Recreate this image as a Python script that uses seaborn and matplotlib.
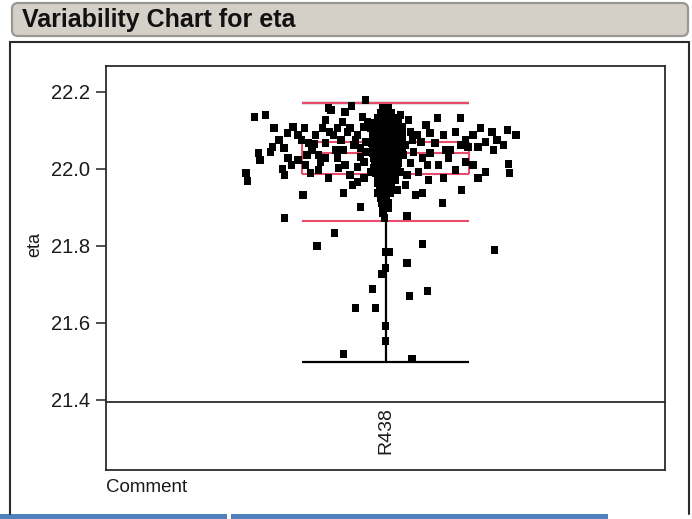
import matplotlib
matplotlib.use("Agg")
import matplotlib.pyplot as plt
from matplotlib.patches import FancyBboxPatch, Rectangle
from matplotlib.lines import Line2D
import numpy as np
import pandas as pd
import seaborn as sns

sns.set_theme(style="white")
plt.rcParams["font.family"] = ["Liberation Sans", "DejaVu Sans"]

# ---------------------------------------------------------------------------
# Data: eta measurements for the single Comment level, with horizontal jitter
# ---------------------------------------------------------------------------
categories = ["R438"]

# dense core of the distribution
core_eta = [22.158, 22.158,
            22.145, 22.145, 22.145,
            22.132, 22.132, 22.132, 22.132,
            22.119, 22.119, 22.119, 22.119, 22.119,
            22.106, 22.106, 22.106, 22.106, 22.106,
            22.094, 22.094, 22.094, 22.094, 22.094, 22.094,
            22.081, 22.081, 22.081, 22.081, 22.081, 22.081,
            22.068, 22.068, 22.068, 22.068, 22.068, 22.068,
            22.055, 22.055, 22.055, 22.055, 22.055, 22.055,
            22.042, 22.042, 22.042, 22.042, 22.042,
            22.029, 22.029, 22.029, 22.029, 22.029,
            22.016, 22.016, 22.016, 22.016, 22.016,
            22.003, 22.003, 22.003, 22.003, 22.003,
            21.990, 21.990, 21.990, 21.990,
            21.977, 21.977, 21.977,
            21.964, 21.964, 21.964,
            21.951, 21.951, 21.951,
            21.938, 21.938, 21.938,
            21.925, 21.925,
            21.912, 21.912,
            21.899, 21.899,
            21.886,
            21.873]
core_jit = [-0.004, 0.005,
            -0.009, 0.002, 0.011,
            -0.014, -0.004, 0.007, 0.018,
            -0.020, -0.009, 0.002, 0.013, 0.023,
            -0.021, -0.011, 0.000, 0.011, 0.021,
            -0.023, -0.013, -0.002, 0.009, 0.020, 0.029,
            -0.023, -0.013, -0.002, 0.009, 0.020, 0.030,
            -0.025, -0.014, -0.004, 0.007, 0.018, 0.029,
            -0.023, -0.013, -0.002, 0.009, 0.020, 0.030,
            -0.023, -0.013, -0.002, 0.009, 0.020,
            -0.021, -0.011, 0.000, 0.011, 0.021,
            -0.020, -0.009, 0.002, 0.013, 0.023,
            -0.021, -0.011, 0.000, 0.011, 0.021,
            -0.018, -0.007, 0.004, 0.014,
            -0.014, -0.004, 0.007,
            -0.013, -0.002, 0.009,
            -0.011, 0.000, 0.011,
            -0.013, -0.002, 0.009,
            -0.009, 0.002,
            -0.007, 0.004,
            -0.005, 0.005,
            -0.004,
            -0.002]

# points just left of the core
inner_left_eta = [22.179, 22.164, 22.153, 22.122, 22.106, 22.088, 22.106, 22.088,
                  22.109, 22.122, 22.135, 22.106, 22.062, 22.049, 22.029, 22.010,
                  22.005, 22.018, 21.984, 21.966, 21.958, 21.977, 21.992, 22.044,
                  22.031, 22.003, 22.075, 22.096, 22.070, 22.055, 21.938, 21.901,
                  21.997, 21.977, 22.049, 22.127, 22.148, 22.075, 22.023]
inner_left_jit = [-0.036, -0.061, -0.098, -0.077, -0.086, -0.093, -0.063, -0.050,
                  -0.039, -0.032, -0.041, -0.027, -0.057, -0.075, -0.086, -0.072,
                  -0.050, -0.039, -0.063, -0.050, -0.059, -0.039, -0.027, -0.036,
                  -0.045, -0.084, -0.054, -0.068, -0.036, -0.045, -0.075, -0.045,
                  -0.120, -0.102, -0.089, -0.107, -0.072, -0.080, -0.156]

# points just right of the core
inner_right_eta = [22.109, 22.096, 22.088, 22.070, 22.062, 22.044, 22.029, 22.010,
                   22.016, 21.992, 21.984, 21.992, 22.042, 22.036, 22.127, 22.140,
                   22.075, 21.958, 21.971, 21.945, 21.938, 21.878,
                   22.094, 22.114, 22.049, 22.010, 21.997, 21.971, 21.932]
inner_right_jit = [0.030, 0.045, 0.057, 0.063, 0.036, 0.050, 0.066, 0.075,
                   0.045, 0.059, 0.039, 0.027, 0.080, 0.032, 0.041, 0.027,
                   0.048, 0.036, 0.018, 0.021, 0.066, 0.039,
                   0.080, 0.072, 0.107, 0.095, 0.125, 0.077, 0.054]

# wide right wing
outer_right_eta = [22.132, 22.088, 22.068, 21.977, 21.912, 22.132, 22.096, 22.106,
                   22.088, 22.096, 22.101, 22.088, 22.075, 22.070, 22.062, 22.075,
                   22.062, 22.049, 22.057, 22.029, 22.018, 22.013, 22.049, 22.057,
                   22.010, 21.992, 21.977, 21.945, 21.990]
outer_right_jit = [0.093, 0.104, 0.089, 0.104, 0.102, 0.134, 0.125, 0.170,
                   0.157, 0.191, 0.218, 0.233, 0.200, 0.179, 0.211, 0.143,
                   0.134, 0.116, 0.148, 0.113, 0.143, 0.220, 0.193, 0.166,
                   0.156, 0.179, 0.166, 0.136, 0.222]

# wide left wing
outer_left_eta = [22.135, 22.140, 22.106, 22.094, 22.109, 22.106, 22.088, 22.075,
                  22.068, 22.065, 22.068, 22.075, 22.057, 22.044, 22.042, 22.023,
                  22.029, 22.036, 22.036, 22.029, 22.158, 22.096, 21.990, 21.969,
                  22.000, 21.984, 22.010, 21.990, 21.932, 21.873, 22.018, 22.088,
                  22.106, 22.049, 22.010, 22.055]
outer_left_jit = [-0.234, -0.215, -0.199, -0.175, -0.165, -0.145, -0.157, -0.150,
                  -0.138, -0.127, -0.107, -0.191, -0.202, -0.206, -0.227, -0.224,
                  -0.174, -0.140, -0.120, -0.107, -0.102, -0.100, -0.250, -0.247,
                  -0.184, -0.181, -0.168, -0.134, -0.148, -0.181, -0.116, -0.125,
                  -0.113, -0.131, -0.143, -0.182]

# low tail
tail_eta = [21.834, 21.800, 21.805, 21.790, 21.784, 21.784, 21.756, 21.743, 21.727,
            21.688, 21.683, 21.670, 21.639, 21.639, 21.592, 21.553, 21.519, 21.506]
tail_jit = [-0.091, -0.123, 0.066, 0.195, 0.000, 0.007, 0.039, 0.000, -0.007,
            -0.023, 0.075, 0.043, -0.054, -0.018, 0.000, 0.000, -0.075, 0.047]

# box plot summary and range bar for R438
whisker_hi = 22.171
q3 = 22.070
median = 22.042
q1 = 21.987
whisker_lo = 21.866
eta_min = 21.499
eta_max = 22.171

y_ticks = [21.4, 21.6, 21.8, 22.0, 22.2]

eta = np.array(core_eta + inner_left_eta + inner_right_eta + outer_right_eta
               + outer_left_eta + tail_eta)
jit = np.array(core_jit + inner_left_jit + inner_right_jit + outer_right_jit
               + outer_left_jit + tail_jit)
df = pd.DataFrame({"Comment": categories[0], "eta": eta,
                   "pos": 0 + jit})

# ---------------------------------------------------------------------------
# Figure layout (pixel helpers)
# ---------------------------------------------------------------------------
W, H = 692, 519
fig = plt.figure(figsize=(W / 100, H / 100), dpi=100)
fig.patch.set_facecolor("white")


def fx(px):
    return px / W


def fy(py):
    return 1 - py / H


# background layer for title bar, outer frame and footer strips
bg = fig.add_axes([0, 0, 1, 1], zorder=-5)
bg.set_xlim(0, W)
bg.set_ylim(H, 0)
bg.axis("off")
bg.add_patch(FancyBboxPatch((12, 3), 676, 33,
                            boxstyle="round,pad=0,rounding_size=6",
                            fc="#d4d0c8", ec="#9a9893", lw=1.6))
bg.text(22, 20, "Variability Chart for eta", fontsize=18, fontweight="bold",
        color="#111111", va="center", ha="left")
frame_col = "#2b2b2b"
bg.add_line(Line2D([10, 10], [42, 514], color=frame_col, lw=1.5))
bg.add_line(Line2D([10, 689], [42, 42], color=frame_col, lw=1.5))
bg.add_line(Line2D([689, 689], [42, 514], color=frame_col, lw=1.5))
bg.add_patch(Rectangle((0, 514), 227, 5, fc="#4f81bd", ec="none"))
bg.add_patch(Rectangle((231, 514), 377, 5, fc="#4f81bd", ec="none"))

# category label strip
cax = fig.add_axes([fx(106), fy(470), fx(665) - fx(106), fy(402) - fy(470)])
cax.patch.set_alpha(0)
# main plot area
ax = fig.add_axes([fx(106), fy(402), fx(665) - fx(106), fy(66) - fy(402)])
ax.patch.set_alpha(0)

red = "#ea4b6c"
hw = 0.15  # half-width of the box / range-bar caps

# range bar (min to max)
ax.vlines(0, eta_min, eta_max, color="black", lw=1.6, zorder=1)
ax.hlines([eta_min, eta_max], -hw, hw, color="black", lw=1.6, zorder=1)

# box plot
ax.hlines([whisker_hi, q3, median, q1, whisker_lo], -hw, hw,
          color=red, lw=1.5, zorder=2)
ax.vlines([-hw, hw], q1, q3, color=red, lw=1.5, zorder=2)

sns.scatterplot(data=df, x="pos", y="eta", marker="s", s=30, color="black",
                edgecolor="none", linewidth=0, ax=ax, zorder=3, legend=False)

ax.set_xlim(-0.5, 0.5)
ax.set_ylim(21.3948, 22.2675)
ax.set_yticks(y_ticks)
ax.set_yticklabels([f"{v:.1f}" for v in y_ticks])
ax.set_xticks([])
ax.set_xlabel("")
ax.set_ylabel("")
ax.tick_params(axis="y", left=True, direction="out", length=7.2, width=1.1,
               pad=4, labelsize=14.5, colors="#222222", labelcolor="#1a1a1a")
for sp in ax.spines.values():
    sp.set_visible(True)
    sp.set_color(frame_col)
    sp.set_linewidth(1.3)

cax.set_xlim(-0.5, 0.5)
cax.set_ylim(0, 1)
cax.set_xticks([])
cax.set_yticks([])
for name, sp in cax.spines.items():
    sp.set_color(frame_col)
    sp.set_linewidth(1.3)
    sp.set_visible(name != "top")
cax.text(0, 0.92, categories[0], rotation=90, ha="center", va="top",
         fontsize=14, color="#1a1a1a")

fig.text(fx(35), fy(244), "eta", rotation=90, ha="center", va="center",
         fontsize=13, color="#1a1a1a")
fig.text(fx(106), fy(487), "Comment", ha="left", va="center",
         fontsize=13.5, color="#1a1a1a")

fig.savefig("out.png", dpi=100, facecolor="white")
